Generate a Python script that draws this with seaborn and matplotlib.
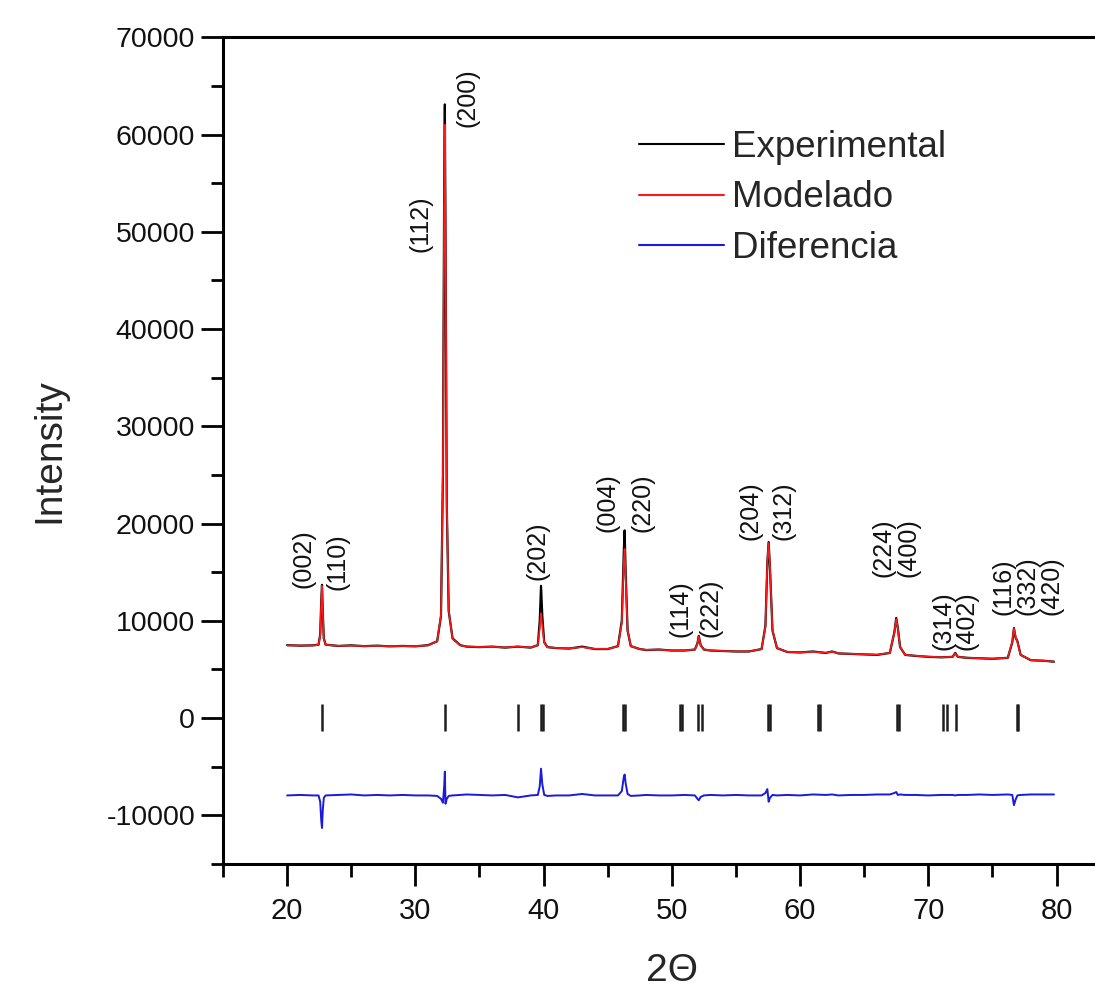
import matplotlib
matplotlib.use("Agg")
import matplotlib.pyplot as plt
import seaborn as sns
import pandas as pd
from matplotlib.ticker import MultipleLocator

# ---------------- data ----------------
two_theta = [20, 21, 22, 22.45, 22.58, 22.66, 22.72, 22.78, 22.86, 23.0,
             24, 25, 26, 27, 28, 29, 30, 31, 31.7, 32.0,
             32.15, 32.25, 32.3, 32.35, 32.45, 32.6, 32.9, 33.5, 34, 35,
             36, 37, 38, 39, 39.55, 39.7, 39.8, 39.9, 40.05, 40.3,
             41, 42, 43, 44, 45, 45.8, 46.1, 46.25, 46.32, 46.4,
             46.55, 46.8, 47.5, 48, 49, 50, 51, 51.8, 52.0, 52.1,
             52.25, 52.5, 53, 54, 55, 56, 57.0, 57.3, 57.45, 57.55,
             57.65, 57.85, 58.2, 59, 60, 61, 62, 62.5, 63, 64,
             65, 66, 67.0, 67.35, 67.5, 67.62, 67.8, 68.2, 69, 70,
             71, 71.9, 72.1, 72.3, 73, 74, 75, 76.2, 76.55, 76.68,
             76.8, 76.95, 77.2, 78, 79, 79.8]

experimental = [7500, 7450, 7480, 7550, 8600, 12000, 13700, 11000, 8200, 7550,
                7420, 7480, 7400, 7450, 7380, 7420, 7380, 7500, 7900, 10500,
                25000, 55000, 63100, 50000, 22000, 11000, 8200, 7500, 7350, 7300,
                7350, 7250, 7350, 7250, 7500, 10000, 13600, 10500, 7800, 7300,
                7200, 7150, 7350, 7100, 7100, 7400, 10000, 17000, 19300, 15000,
                9000, 7400, 7100, 7000, 7050, 6950, 6950, 7050, 7700, 8450,
                7500, 7050, 6950, 6900, 6850, 6850, 7100, 9500, 16000, 18100,
                15500, 9000, 7200, 6800, 6750, 6850, 6700, 6850, 6650, 6600,
                6550, 6500, 6700, 8800, 10300, 9300, 7300, 6500, 6400, 6300,
                6250, 6300, 6700, 6300, 6200, 6150, 6100, 6200, 7800, 9250,
                8300, 7900, 6500, 5950, 5900, 5800]

modelado = [7480, 7460, 7470, 7540, 8500, 11800, 13600, 10900, 8150, 7540,
            7430, 7450, 7410, 7430, 7400, 7410, 7390, 7480, 7900, 10600,
            25500, 54000, 61000, 51000, 22500, 11100, 8150, 7480, 7360, 7310,
            7330, 7270, 7350, 7260, 7480, 9200, 10800, 9400, 7750, 7290,
            7210, 7170, 7300, 7120, 7110, 7380, 9800, 16000, 17400, 14500,
            9050, 7400, 7100, 7020, 7040, 6960, 6950, 7060, 7650, 8400,
            7480, 7060, 6960, 6900, 6860, 6850, 7100, 9400, 16200, 18000,
            15600, 9050, 7200, 6810, 6760, 6820, 6720, 6830, 6660, 6610,
            6560, 6520, 6700, 8750, 10200, 9300, 7300, 6510, 6410, 6320,
            6260, 6300, 6650, 6300, 6210, 6160, 6110, 6200, 7850, 9200,
            8400, 7850, 6500, 5960, 5900, 5810]

diferencia = [-7950, -7900, -7950, -7950, -8600, -10500, -11300, -9500, -8200, -7950,
              -7900, -7850, -7950, -7900, -7950, -7900, -7950, -7950, -8000, -8300,
              -8700, -7000, -5500, -8800, -8300, -8000, -7950, -7900, -7850, -7900,
              -7950, -7900, -8150, -7950, -7900, -7000, -5200, -6800, -7900, -8000,
              -7950, -7950, -7800, -7950, -7950, -7950, -7500, -6100, -5800, -6700,
              -7800, -8000, -7950, -7900, -7950, -7950, -7900, -7950, -8300, -8450,
              -8100, -7950, -7900, -7950, -7900, -7950, -7950, -7700, -7300, -8600,
              -8200, -7900, -7950, -7900, -7950, -7850, -7900, -7850, -7950, -7900,
              -7900, -7850, -7850, -7700, -7600, -7900, -7850, -7900, -7900, -7950,
              -7900, -7900, -7950, -7900, -7900, -7850, -7900, -7850, -7900, -8950,
              -8400, -7950, -7900, -7850, -7850, -7850]

# Bragg reflection positions (tick marks around 0)
bragg_positions = [22.71, 32.34, 38.02, 39.77, 39.98, 46.20, 46.35, 50.63, 50.76,
                   52.08, 52.32, 57.48, 57.68, 61.38, 61.59, 67.58, 67.71,
                   71.15, 71.46, 72.19, 76.88, 77.00]

# Miller index labels: text, x position, y of the label's lower end
hkl_labels = ["(002)", "(110)", "(112)", "(200)", "(202)", "(004)", "(220)",
              "(114)", "(222)", "(204)", "(312)", "(224)", "(400)", "(314)",
              "(402)", "(116)", "(332)", "(420)"]
hkl_x = [21.25, 23.9, 30.39, 34.06, 39.53, 45.0, 47.73, 50.7, 53.05, 56.17,
         58.67, 66.48, 68.44, 71.2, 73.0, 75.85, 77.75, 79.6]
hkl_y = [13350, 13200, 47900, 60800, 14200, 19100, 19100, 8350, 8350, 18300,
         18300, 14500, 14500, 7000, 7000, 10600, 10600, 10600]

series_names = ["Experimental", "Modelado", "Diferencia"]
series_colors = ["#000000", "#ff1a1a", "#1a1ad9"]

# ---------------- plotting ----------------
sns.set_theme(style="ticks")
plt.rcParams["font.family"] = ["Liberation Sans", "DejaVu Sans"]
plt.rcParams["axes.unicode_minus"] = False

fig = plt.figure(figsize=(10.95, 9.96), dpi=100)
ax = fig.add_axes([223 / 1095, 1 - 864 / 996, 1 - 223 / 1095, (864 - 37.3) / 996])

df = pd.DataFrame({"x": two_theta, "Experimental": experimental,
                   "Modelado": modelado, "Diferencia": diferencia})

sns.lineplot(data=df, x="x", y="Experimental", ax=ax, color=series_colors[0],
             lw=1.6, label=series_names[0], sort=False, estimator=None)
sns.lineplot(data=df, x="x", y="Modelado", ax=ax, color=series_colors[1],
             lw=1.2, label=series_names[1], sort=False, estimator=None)
sns.lineplot(data=df, x="x", y="Diferencia", ax=ax, color=series_colors[2],
             lw=1.4, label=series_names[2], sort=False, estimator=None)

ax.vlines(bragg_positions, -1300, 1500, colors="#1e1e1e", lw=1.8)

for t, x, y in zip(hkl_labels, hkl_x, hkl_y):
    ax.text(x, y, t, rotation=90, ha="center", va="bottom",
            fontsize=18, color="#111111")

ax.set_xlim(15, 83)
ax.set_ylim(-15000, 70000)
ax.xaxis.set_major_locator(MultipleLocator(10))
ax.xaxis.set_minor_locator(MultipleLocator(5))
ax.yaxis.set_major_locator(MultipleLocator(10000))
ax.yaxis.set_minor_locator(MultipleLocator(5000))
ax.set_xticks([20, 30, 40, 50, 60, 70, 80])

ax.tick_params(axis="both", which="major", direction="out", length=16, width=2,
               labelsize=21, color="black", labelcolor="#111111")
ax.tick_params(axis="y", which="major", labelsize=20.5)
ax.tick_params(axis="both", which="minor", direction="out", length=9, width=2,
               color="black")
ax.tick_params(axis="x", which="major", pad=8)
ax.tick_params(axis="y", which="major", pad=4)
ax.tick_params(top=False, right=False, which="both")

for side in ["left", "bottom", "top"]:
    ax.spines[side].set_linewidth(2.2)
    ax.spines[side].set_color("black")
ax.spines["right"].set_visible(False)

ax.set_xlabel("2Θ", fontsize=28, labelpad=20, x=0.515)
ax.set_ylabel("Intensity", fontsize=28, labelpad=28)

leg = ax.legend(loc="upper left", bbox_to_anchor=(639 / 1095, 1 - 130 / 996),
                bbox_transform=fig.transFigure, frameon=False, fontsize=26.5,
                handlelength=2.3, handletextpad=0.22, labelspacing=0.42,
                borderpad=0, borderaxespad=0)
for line in leg.get_lines():
    line.set_linewidth(1.5)

fig.savefig("out.png", dpi=100)
